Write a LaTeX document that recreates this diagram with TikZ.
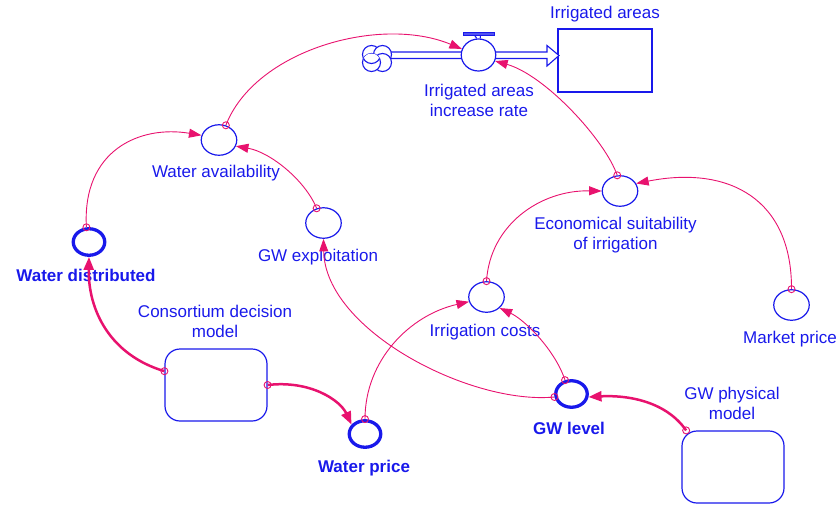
\documentclass[tikz,border=0pt]{standalone}
\usepackage{fontspec}
\setmainfont{Liberation Sans}
\usetikzlibrary{arrows.meta,shapes.geometric}
\definecolor{lk}{RGB}{232,18,110}
\definecolor{bl}{RGB}{25,25,235}
\begin{document}
\begin{tikzpicture}[x=1pt,y=-1pt,
  var/.style={ellipse,draw=bl,line width=1.2pt,minimum width=35.5pt,minimum height=30.5pt,inner sep=0pt,fill=white},
  kvar/.style={ellipse,draw=bl,line width=3.3pt,minimum width=31.5pt,minimum height=26.5pt,inner sep=0pt,fill=white},
  mdl/.style={draw=bl,line width=1.2pt,rounded corners=15pt,minimum width=102pt,minimum height=72pt,inner sep=0pt},
  lbl/.style={text=bl,font=\fontsize{17}{20}\selectfont,align=center,inner sep=0pt},
  blbl/.style={text=bl,font=\fontsize{17}{20}\selectfont\bfseries,align=center,inner sep=0pt},
  link/.style={draw=lk,line width=0.9pt,-{Triangle[length=12.5pt,width=9pt]}},
  klink/.style={draw=lk,line width=2.5pt,-{Triangle[length=13pt,width=10pt]}},
  dot/.style={draw=lk,line width=0.9pt}
]
\useasboundingbox (0,0) rectangle (838,504);

% stock and flow
\node[draw=bl,line width=1.2pt,minimum width=94pt,minimum height=63pt,inner sep=0pt] (ia) at (605,60.5) {};
\node[lbl] (ia-l) at (605,14) {Irrigated areas};
\coordinate (cl) at (377,58.5);
\draw[bl,line width=1.1pt,fill=white] (390,52) -- (547,52) -- (547,45.5) -- (559,55.5) -- (547,66) -- (547,58.5) -- (390,58.5);
\node[ellipse,draw=bl,line width=1.2pt,minimum width=34.5pt,minimum height=32pt,inner sep=0pt,fill=white] (val) at (478.5,55) {};
\draw[bl,line width=1.1pt] (474.5,35) -- (val.96) (480.5,35) -- (val.84);
\draw[bl,line width=1pt,fill=bl!75] (463,32) rectangle (494,35);
\node[lbl] (val-l) at (479,100) {Irrigated areas\\increase rate};
% cloud
\begin{scope}[bl,line width=1.1pt,fill=white]
\coordinate (c1) at ([shift={(-5.5,-4)}]cl);
\coordinate (c2) at ([shift={(5.5,-4)}]cl);
\coordinate (c3) at ([shift={(5.5,4)}]cl);
\coordinate (c4) at ([shift={(-5.5,4)}]cl);
\filldraw (c1) circle (9pt);
\filldraw (c2) circle (9pt);
\filldraw (c3) circle (9pt);
\filldraw (c4) circle (9pt);
\begin{scope}
\clip (c4) circle (9pt);
\filldraw (c1) circle (9pt);
\end{scope}
\end{scope}

% auxiliaries
\node[kvar] (wd) at (89,242) {};
\node[blbl] (wd-l) at (86,275) {Water distributed};
\node[var] (wa) at (219,140) {};
\node[lbl] (wa-l) at (216,173) {Water availability};
\node[var] (gwe) at (323.5,223) {};
\node[lbl] (gwe-l) at (318,257) {GW exploitation};
\node[var] (ec) at (620,191) {};
\node[lbl] (ec-l) at (615.5,235) {Economical suitability\\of irrigation};
\node[var] (ic) at (486.5,297) {};
\node[lbl] (ic-l) at (485,332) {Irrigation costs};
\node[var] (mp) at (791.5,305) {};
\node[lbl] (mp-l) at (790,339) {Market price};
\node[kvar] (wp) at (365,434) {};
\node[blbl] (wp-l) at (364,468) {Water price};
\node[kvar] (gwl) at (571.5,394) {};
\node[blbl] (gwl-l) at (569,428) {GW level};
\node[mdl] (cdm) at (216,385) {};
\node[lbl] (cdm-l) at (215,321) {Consortium decision\\model};
\node[mdl] (gwpm) at (733,467) {};
\node[lbl] (gwpm-l) at (732,403) {GW physical\\model};

% links
\draw[link] (wd.100) .. controls (82,150) and (140,125) .. (wa.165);
\draw[link] (gwe.115) .. controls (305,180) and (270,152) .. (wa.-20);
\draw[link] (wa.65) .. controls (255,50) and (380,15) .. (val.160);
\draw[link] (ec.100) .. controls (605,140) and (545,75) .. (val.-20);
\draw[link] (ic.90) .. controls (490,225) and (540,190) .. (ec.180);
\draw[link] (mp.90) .. controls (792,200) and (730,165) .. (ec.25);
\draw[link] (gwl.190) .. controls (470,405) and (325,330) .. (gwe.-90);
\draw[link] (gwl.115) .. controls (555,350) and (525,320) .. (ic.-40);
\draw[link] (wp.90) .. controls (365,360) and (410,315) .. (ic.195);
\draw[klink] (cdm.165) .. controls (110,355) and (88,310) .. (wd.-90);
\draw[klink] (cdm.east) .. controls (310,380) and (340,400) .. (wp.145);
\draw[klink] (gwpm.142) .. controls (665,400) and (625,395) .. (gwl.-10);

% link origin circles
\foreach \p in {wd.100,gwe.115,wa.65,ec.100,ic.90,mp.90,gwl.190,gwl.115,wp.90,cdm.165,cdm.east,gwpm.142}
  \draw[dot] (\p) circle (3.5pt);
\end{tikzpicture}
\end{document}
